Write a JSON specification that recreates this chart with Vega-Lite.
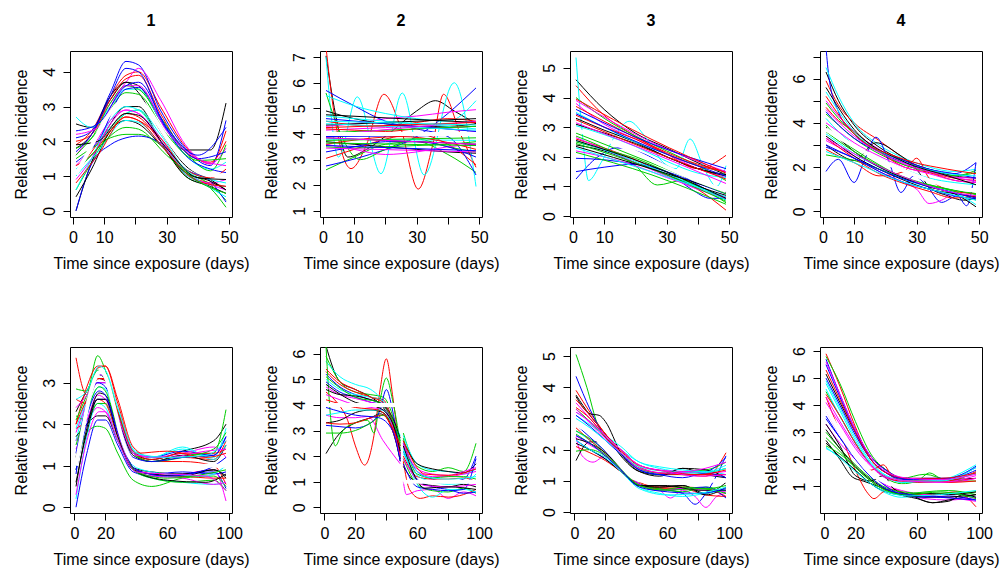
{
"$schema":"https://vega.github.io/schema/vega-lite/v6.json",
"background":"white",
"padding":{"left":12,"top":12,"right":5,"bottom":5},
"config":{
 "view":{"stroke":"black","strokeWidth":1},
 "font":"Liberation Sans",
 "axis":{"domain":false,"grid":false,"ticks":true,"tickSize":7,"tickColor":"black","tickWidth":1,"labelFont":"Liberation Sans","labelFontSize":16,"labelColor":"black","titleFont":"Liberation Sans","titleFontSize":16,"titleFontWeight":"normal","titleColor":"black","labelOverlap":false,"labelFlush":false},
 "axisX":{"labelPadding":5,"titlePadding":10},
 "axisY":{"labelAngle":-90,"labelAlign":"center","labelBaseline":"bottom","labelPadding":6,"titlePadding":12},
 "title":{"font":"Liberation Sans","fontSize":16,"fontWeight":"bold","color":"black","offset":22,"baseline":"alphabetic"}
},
"datasets":{
"p1":[
{"s":1,"x":1,"y":2.5},{"s":1,"x":6,"y":2.4},{"s":1,"x":12,"y":3.2},{"s":1,"x":17,"y":3.7},{"s":1,"x":21,"y":3.6},{"s":1,"x":28,"y":2.6},{"s":1,"x":36,"y":1.75},{"s":1,"x":44,"y":1.75},{"s":1,"x":49,"y":3.1},
{"s":2,"x":1,"y":1.9},{"s":2,"x":6,"y":2.3},{"s":2,"x":12,"y":3.3},{"s":2,"x":17,"y":3.9},{"s":2,"x":21,"y":4.0},{"s":2,"x":28,"y":3.0},{"s":2,"x":36,"y":1.85},{"s":2,"x":44,"y":1.35},{"s":2,"x":49,"y":2.3},
{"s":3,"x":1,"y":0.6},{"s":3,"x":6,"y":1.4},{"s":3,"x":12,"y":2.3},{"s":3,"x":17,"y":2.8},{"s":3,"x":21,"y":2.9},{"s":3,"x":28,"y":2.0},{"s":3,"x":36,"y":1.0},{"s":3,"x":44,"y":0.65},{"s":3,"x":49,"y":0.1},
{"s":4,"x":1,"y":2.1},{"s":4,"x":6,"y":2.3},{"s":4,"x":12,"y":3.4},{"s":4,"x":17,"y":4.3},{"s":4,"x":21,"y":4.2},{"s":4,"x":28,"y":2.9},{"s":4,"x":36,"y":1.8},{"s":4,"x":44,"y":1.3},{"s":4,"x":49,"y":2.6},
{"s":5,"x":1,"y":2.7},{"s":5,"x":6,"y":2.4},{"s":5,"x":12,"y":3.0},{"s":5,"x":17,"y":3.5},{"s":5,"x":21,"y":3.5},{"s":5,"x":28,"y":2.6},{"s":5,"x":36,"y":1.6},{"s":5,"x":44,"y":1.2},{"s":5,"x":49,"y":1.4},
{"s":6,"x":1,"y":1.6},{"s":6,"x":6,"y":2.2},{"s":6,"x":12,"y":3.1},{"s":6,"x":17,"y":3.7},{"s":6,"x":21,"y":4.1},{"s":6,"x":28,"y":3.2},{"s":6,"x":36,"y":1.9},{"s":6,"x":44,"y":1.35},{"s":6,"x":49,"y":1.8},
{"s":7,"x":1,"y":0},{"s":7,"x":6,"y":1.4},{"s":7,"x":12,"y":2.5},{"s":7,"x":17,"y":3.0},{"s":7,"x":21,"y":3.0},{"s":7,"x":28,"y":2.0},{"s":7,"x":36,"y":1.0},{"s":7,"x":44,"y":0.7},{"s":7,"x":49,"y":0.5},
{"s":8,"x":1,"y":1.1},{"s":8,"x":6,"y":1.7},{"s":8,"x":12,"y":2.4},{"s":8,"x":17,"y":2.8},{"s":8,"x":21,"y":2.7},{"s":8,"x":28,"y":2.0},{"s":8,"x":36,"y":1.05},{"s":8,"x":44,"y":0.8},{"s":8,"x":49,"y":0.7},
{"s":9,"x":1,"y":1.5},{"s":9,"x":6,"y":1.8},{"s":9,"x":12,"y":2.1},{"s":9,"x":17,"y":2.2},{"s":9,"x":21,"y":2.2},{"s":9,"x":28,"y":1.9},{"s":9,"x":36,"y":1.15},{"s":9,"x":44,"y":0.75},{"s":9,"x":49,"y":0.3},
{"s":10,"x":1,"y":0},{"s":10,"x":6,"y":1.35},{"s":10,"x":12,"y":1.9},{"s":10,"x":17,"y":2.1},{"s":10,"x":21,"y":2.15},{"s":10,"x":28,"y":1.95},{"s":10,"x":36,"y":1.2},{"s":10,"x":44,"y":0.85},{"s":10,"x":49,"y":0.25},
{"s":11,"x":1,"y":0.6},{"s":11,"x":6,"y":1.5},{"s":11,"x":12,"y":2.6},{"s":11,"x":17,"y":3.0},{"s":11,"x":21,"y":2.9},{"s":11,"x":28,"y":2.1},{"s":11,"x":36,"y":1.05},{"s":11,"x":44,"y":0.75},{"s":11,"x":49,"y":0.7},
{"s":12,"x":1,"y":1.3},{"s":12,"x":6,"y":1.8},{"s":12,"x":12,"y":2.6},{"s":12,"x":17,"y":2.9},{"s":12,"x":21,"y":2.8},{"s":12,"x":28,"y":2.1},{"s":12,"x":36,"y":1.1},{"s":12,"x":44,"y":0.8},{"s":12,"x":49,"y":0.9},
{"s":13,"x":1,"y":1.8},{"s":13,"x":6,"y":2.2},{"s":13,"x":12,"y":3.3},{"s":13,"x":17,"y":3.7},{"s":13,"x":21,"y":3.4},{"s":13,"x":28,"y":2.3},{"s":13,"x":36,"y":1.3},{"s":13,"x":44,"y":0.9},{"s":13,"x":49,"y":0.6},
{"s":14,"x":1,"y":2.0},{"s":14,"x":6,"y":2.2},{"s":14,"x":12,"y":3.2},{"s":14,"x":17,"y":3.8},{"s":14,"x":21,"y":3.9},{"s":14,"x":28,"y":2.8},{"s":14,"x":36,"y":1.7},{"s":14,"x":44,"y":1.4},{"s":14,"x":49,"y":2.0},
{"s":15,"x":1,"y":1.8},{"s":15,"x":6,"y":2.1},{"s":15,"x":12,"y":3.1},{"s":15,"x":17,"y":3.6},{"s":15,"x":21,"y":3.5},{"s":15,"x":28,"y":2.7},{"s":15,"x":36,"y":1.7},{"s":15,"x":44,"y":1.15},{"s":15,"x":49,"y":1.9},
{"s":16,"x":1,"y":1.7},{"s":16,"x":6,"y":2.2},{"s":16,"x":12,"y":3.3},{"s":16,"x":17,"y":4.1},{"s":16,"x":21,"y":4.0},{"s":16,"x":28,"y":2.7},{"s":16,"x":36,"y":1.6},{"s":16,"x":44,"y":1.2},{"s":16,"x":49,"y":1.1},
{"s":17,"x":1,"y":1.2},{"s":17,"x":6,"y":1.6},{"s":17,"x":12,"y":2.4},{"s":17,"x":17,"y":2.8},{"s":17,"x":21,"y":2.9},{"s":17,"x":28,"y":2.2},{"s":17,"x":36,"y":1.2},{"s":17,"x":44,"y":0.9},{"s":17,"x":49,"y":0.8},
{"s":18,"x":1,"y":0.9},{"s":18,"x":6,"y":1.5},{"s":18,"x":12,"y":2.5},{"s":18,"x":17,"y":2.9},{"s":18,"x":21,"y":2.8},{"s":18,"x":28,"y":2.0},{"s":18,"x":36,"y":1.1},{"s":18,"x":44,"y":0.75},{"s":18,"x":49,"y":0.6},
{"s":19,"x":1,"y":0.4},{"s":19,"x":6,"y":1.2},{"s":19,"x":12,"y":2.3},{"s":19,"x":17,"y":2.6},{"s":19,"x":21,"y":2.5},{"s":19,"x":28,"y":1.9},{"s":19,"x":36,"y":1.1},{"s":19,"x":44,"y":0.85},{"s":19,"x":49,"y":0.6},
{"s":20,"x":1,"y":1.3},{"s":20,"x":6,"y":1.6},{"s":20,"x":12,"y":2.3},{"s":20,"x":17,"y":2.7},{"s":20,"x":21,"y":2.6},{"s":20,"x":28,"y":2.1},{"s":20,"x":36,"y":1.2},{"s":20,"x":44,"y":0.95},{"s":20,"x":49,"y":1.2},
{"s":21,"x":1,"y":1.6},{"s":21,"x":8,"y":2.3},{"s":21,"x":17,"y":3.4},{"s":21,"x":21,"y":3.35},{"s":21,"x":30,"y":2.2},{"s":21,"x":40,"y":1.45},{"s":21,"x":49,"y":1.5},
{"s":22,"x":1,"y":1.4},{"s":22,"x":8,"y":2.0},{"s":22,"x":17,"y":3.5},{"s":22,"x":21,"y":3.55},{"s":22,"x":30,"y":2.35},{"s":22,"x":40,"y":1.5},{"s":22,"x":49,"y":1.7},
{"s":23,"x":1,"y":1.0},{"s":23,"x":8,"y":1.7},{"s":23,"x":17,"y":2.6},{"s":23,"x":21,"y":2.55},{"s":23,"x":30,"y":1.7},{"s":23,"x":40,"y":0.9},{"s":23,"x":49,"y":0.4},
{"s":24,"x":1,"y":2.2},{"s":24,"x":8,"y":2.4},{"s":24,"x":17,"y":3.6},{"s":24,"x":21,"y":3.6},{"s":24,"x":30,"y":2.3},{"s":24,"x":40,"y":1.5},{"s":24,"x":49,"y":1.3},
{"s":25,"x":1,"y":1.9},{"s":25,"x":8,"y":2.0},{"s":25,"x":17,"y":2.8},{"s":25,"x":21,"y":2.75},{"s":25,"x":30,"y":1.8},{"s":25,"x":40,"y":0.95},{"s":25,"x":49,"y":0.9},
{"s":26,"x":1,"y":0.8},{"s":26,"x":8,"y":1.6},{"s":26,"x":17,"y":2.7},{"s":26,"x":21,"y":2.6},{"s":26,"x":30,"y":1.7},{"s":26,"x":40,"y":0.85},{"s":26,"x":49,"y":0.7},
{"s":27,"x":1,"y":1.1},{"s":27,"x":8,"y":1.8},{"s":27,"x":17,"y":2.4},{"s":27,"x":21,"y":2.35},{"s":27,"x":30,"y":1.6},{"s":27,"x":40,"y":0.85},{"s":27,"x":49,"y":0.5},
{"s":28,"x":1,"y":2.3},{"s":28,"x":8,"y":2.5},{"s":28,"x":17,"y":3.6},{"s":28,"x":21,"y":3.7},{"s":28,"x":30,"y":2.4},{"s":28,"x":40,"y":1.6},{"s":28,"x":49,"y":2.4}
],
"t1":[
{"s":1,"x":1,"y":1.05},{"s":1,"x":5,"y":1.7},{"s":1,"x":10,"y":2.55},{"s":1,"x":14,"y":3.05},{"s":1,"x":18,"y":3.3},{"s":1,"x":21,"y":3.22},{"s":1,"x":25,"y":2.8},{"s":1,"x":30,"y":2.1},{"s":1,"x":35,"y":1.5},{"s":1,"x":40,"y":1.12},{"s":1,"x":44,"y":1.02},{"s":1,"x":49,"y":1.02}
],
"p2":[
{"s":1,"x":1,"y":7.05},{"s":1,"x":4,"y":4.8},{"s":1,"x":8,"y":3.1},{"s":1,"x":14,"y":3.4},{"s":1,"x":22,"y":4.1},{"s":1,"x":30,"y":4.9},{"s":1,"x":36,"y":5.3},{"s":1,"x":42,"y":4.9},{"s":1,"x":49,"y":4.4},
{"s":2,"x":1,"y":7.4},{"s":2,"x":3,"y":5.3},{"s":2,"x":9,"y":2.65},{"s":2,"x":14,"y":3.6},{"s":2,"x":19.5,"y":5.55},{"s":2,"x":25,"y":4.2},{"s":2,"x":30.5,"y":1.85},{"s":2,"x":35,"y":3.5},{"s":2,"x":38.6,"y":5.55},{"s":2,"x":44,"y":4.0},{"s":2,"x":49,"y":2.7},
{"s":3,"x":1,"y":2.6},{"s":3,"x":10,"y":3.1},{"s":3,"x":20,"y":3.6},{"s":3,"x":30,"y":3.7},{"s":3,"x":40,"y":3.2},{"s":3,"x":49,"y":2.5},
{"s":4,"x":1,"y":2.75},{"s":4,"x":15,"y":3.2},{"s":4,"x":30,"y":3.9},{"s":4,"x":40,"y":4.8},{"s":4,"x":49,"y":5.8},
{"s":5,"x":1,"y":7.0},{"s":5,"x":5,"y":3.1},{"s":5,"x":11,"y":5.45},{"s":5,"x":18.6,"y":2.45},{"s":5,"x":25.4,"y":5.6},{"s":5,"x":32.4,"y":2.4},{"s":5,"x":42,"y":6.0},{"s":5,"x":49,"y":1.95},
{"s":6,"x":1,"y":4.3},{"s":6,"x":10,"y":4.4},{"s":6,"x":20,"y":4.6},{"s":6,"x":30,"y":4.7},{"s":6,"x":40,"y":4.85},{"s":6,"x":49,"y":4.95},
{"s":7,"x":1,"y":3.7},{"s":7,"x":10,"y":3.6},{"s":7,"x":20,"y":3.5},{"s":7,"x":30,"y":3.4},{"s":7,"x":40,"y":3.3},{"s":7,"x":49,"y":3.25},
{"s":8,"x":1,"y":3.05},{"s":8,"x":10,"y":3.4},{"s":8,"x":20,"y":3.8},{"s":8,"x":30,"y":4.0},{"s":8,"x":40,"y":3.6},{"s":8,"x":49,"y":2.8},
{"s":9,"x":1,"y":5.6},{"s":9,"x":5,"y":4.2},{"s":9,"x":12,"y":3.0},{"s":9,"x":20,"y":3.4},{"s":9,"x":30,"y":3.8},{"s":9,"x":40,"y":3.5},{"s":9,"x":49,"y":3.3},
{"s":10,"x":1,"y":5.7},{"s":10,"x":10,"y":5.1},{"s":10,"x":20,"y":4.5},{"s":10,"x":30,"y":4.2},{"s":10,"x":40,"y":3.9},{"s":10,"x":49,"y":2.4},
{"s":11,"x":1,"y":5.5},{"s":11,"x":10,"y":5.1},{"s":11,"x":20,"y":4.8},{"s":11,"x":30,"y":4.6},{"s":11,"x":40,"y":4.5},{"s":11,"x":49,"y":5.3},
{"s":12,"x":1,"y":3.6},{"s":12,"x":10,"y":3.4},{"s":12,"x":20,"y":3.2},{"s":12,"x":30,"y":3.3},{"s":12,"x":40,"y":3.5},{"s":12,"x":49,"y":3.6},
{"s":13,"x":1,"y":4.9},{"s":13,"x":10,"y":4.6},{"s":13,"x":20,"y":4.4},{"s":13,"x":30,"y":4.3},{"s":13,"x":40,"y":4.3},{"s":13,"x":49,"y":4.4},
{"s":14,"x":1,"y":4.5},{"s":14,"x":10,"y":4.35},{"s":14,"x":20,"y":4.3},{"s":14,"x":30,"y":4.45},{"s":14,"x":40,"y":4.6},{"s":14,"x":49,"y":4.5},
{"s":15,"x":1,"y":3.5},{"s":15,"x":10,"y":3.45},{"s":15,"x":20,"y":3.5},{"s":15,"x":30,"y":3.55},{"s":15,"x":40,"y":3.6},{"s":15,"x":49,"y":3.7},
{"s":16,"x":1,"y":3.3},{"s":16,"x":10,"y":3.5},{"s":16,"x":20,"y":3.7},{"s":16,"x":30,"y":3.7},{"s":16,"x":40,"y":3.5},{"s":16,"x":49,"y":3.1},
{"s":17,"x":1,"y":4.7},{"s":17,"x":10,"y":4.6},{"s":17,"x":20,"y":4.5},{"s":17,"x":30,"y":4.4},{"s":17,"x":40,"y":4.3},{"s":17,"x":49,"y":4.2},
{"s":18,"x":1,"y":4.15},{"s":18,"x":10,"y":4.2},{"s":18,"x":20,"y":4.25},{"s":18,"x":30,"y":4.3},{"s":18,"x":40,"y":4.2},{"s":18,"x":49,"y":4.1},
{"s":19,"x":1,"y":3.85},{"s":19,"x":10,"y":3.8},{"s":19,"x":20,"y":3.75},{"s":19,"x":30,"y":3.7},{"s":19,"x":40,"y":3.65},{"s":19,"x":49,"y":3.6},
{"s":20,"x":1,"y":4.2},{"s":20,"x":10,"y":4.15},{"s":20,"x":20,"y":4.1},{"s":20,"x":30,"y":4.2},{"s":20,"x":40,"y":4.25},{"s":20,"x":49,"y":4.3},
{"s":21,"x":1,"y":4.05},{"s":21,"x":49,"y":4.3},
{"s":22,"x":1,"y":3.9},{"s":22,"x":49,"y":3.95},
{"s":23,"x":1,"y":3.8},{"s":23,"x":49,"y":3.75},
{"s":24,"x":1,"y":3.45},{"s":24,"x":49,"y":3.3},
{"s":25,"x":1,"y":4.35},{"s":25,"x":49,"y":4.6},
{"s":26,"x":1,"y":3.6},{"s":26,"x":25,"y":3.9},{"s":26,"x":49,"y":3.4},
{"s":27,"x":1,"y":3.65},{"s":27,"x":49,"y":3.55},
{"s":28,"x":1,"y":4.6},{"s":28,"x":49,"y":4.1},
{"s":29,"x":1,"y":4.4},{"s":29,"x":49,"y":4.15},
{"s":30,"x":1,"y":3.95},{"s":30,"x":49,"y":4.5},
{"s":31,"x":1,"y":4.75},{"s":31,"x":49,"y":4.45},
{"s":32,"x":1,"y":4.25},{"s":32,"x":49,"y":4.45},
{"s":33,"x":1,"y":3.75},{"s":33,"x":49,"y":3.85},
{"s":34,"x":1,"y":3.55},{"s":34,"x":49,"y":3.35},
{"s":35,"x":1,"y":4.5},{"s":35,"x":49,"y":4.35},
{"s":36,"x":1,"y":3.85},{"s":36,"x":49,"y":3.6}
],
"t2":[{"s":1,"x":1,"y":4},{"s":1,"x":49,"y":4}],
"p3":[
{"s":1,"x":1,"y":4.6},{"s":1,"x":10,"y":3.6},{"s":1,"x":20,"y":2.8},{"s":1,"x":30,"y":2.3},{"s":1,"x":40,"y":1.8},{"s":1,"x":49,"y":1.4},
{"s":2,"x":1,"y":4.4},{"s":2,"x":10,"y":3.4},{"s":2,"x":20,"y":2.7},{"s":2,"x":30,"y":2.1},{"s":2,"x":40,"y":1.6},{"s":2,"x":49,"y":2.05},
{"s":3,"x":1,"y":4.0},{"s":3,"x":10,"y":3.3},{"s":3,"x":20,"y":2.7},{"s":3,"x":30,"y":2.2},{"s":3,"x":40,"y":1.7},{"s":3,"x":49,"y":1.2},
{"s":4,"x":1,"y":1.25},{"s":4,"x":8,"y":2.0},{"s":4,"x":14,"y":2.3},{"s":4,"x":20,"y":2.2},{"s":4,"x":30,"y":1.7},{"s":4,"x":40,"y":1.05},{"s":4,"x":49,"y":0.55},
{"s":5,"x":1,"y":5.35},{"s":5,"x":3,"y":2.8},{"s":5,"x":5,"y":1.2},{"s":5,"x":9,"y":1.8},{"s":5,"x":14,"y":2.8},{"s":5,"x":18,"y":3.2},{"s":5,"x":23,"y":2.7},{"s":5,"x":29,"y":1.8},{"s":5,"x":33,"y":1.6},{"s":5,"x":37.5,"y":2.6},{"s":5,"x":42,"y":1.6},{"s":5,"x":46,"y":1.0},{"s":5,"x":49,"y":1.7},
{"s":6,"x":1,"y":3.8},{"s":6,"x":10,"y":3.1},{"s":6,"x":20,"y":2.6},{"s":6,"x":30,"y":2.1},{"s":6,"x":40,"y":1.6},{"s":6,"x":49,"y":1.3},
{"s":7,"x":1,"y":3.3},{"s":7,"x":10,"y":2.9},{"s":7,"x":20,"y":2.5},{"s":7,"x":30,"y":2.0},{"s":7,"x":40,"y":1.6},{"s":7,"x":49,"y":1.35},
{"s":8,"x":1,"y":2.6},{"s":8,"x":10,"y":2.3},{"s":8,"x":20,"y":1.9},{"s":8,"x":30,"y":1.4},{"s":8,"x":40,"y":0.9},{"s":8,"x":49,"y":0.2},
{"s":9,"x":1,"y":2.7},{"s":9,"x":10,"y":2.3},{"s":9,"x":20,"y":1.7},{"s":9,"x":27,"y":1.05},{"s":9,"x":35,"y":1.2},{"s":9,"x":42,"y":0.9},{"s":9,"x":49,"y":0.45},
{"s":10,"x":1,"y":1.95},{"s":10,"x":10,"y":1.9},{"s":10,"x":20,"y":1.75},{"s":10,"x":30,"y":1.5},{"s":10,"x":38,"y":0.9},{"s":10,"x":44,"y":0.6},{"s":10,"x":49,"y":0.6},
{"s":11,"x":1,"y":3.5},{"s":11,"x":10,"y":3.0},{"s":11,"x":20,"y":2.5},{"s":11,"x":30,"y":2.1},{"s":11,"x":40,"y":1.7},{"s":11,"x":49,"y":1.5},
{"s":12,"x":1,"y":2.2},{"s":12,"x":10,"y":2.0},{"s":12,"x":20,"y":1.7},{"s":12,"x":30,"y":1.3},{"s":12,"x":40,"y":0.95},{"s":12,"x":49,"y":0.65},
{"s":13,"x":1,"y":2.4},{"s":13,"x":10,"y":2.2},{"s":13,"x":20,"y":1.8},{"s":13,"x":30,"y":1.4},{"s":13,"x":40,"y":1.0},{"s":13,"x":49,"y":0.7},
{"s":14,"x":1,"y":3.4},{"s":14,"x":10,"y":3.0},{"s":14,"x":20,"y":2.6},{"s":14,"x":30,"y":2.1},{"s":14,"x":40,"y":1.7},{"s":14,"x":49,"y":1.5},
{"s":15,"x":1,"y":2.5},{"s":15,"x":10,"y":2.25},{"s":15,"x":20,"y":1.95},{"s":15,"x":30,"y":1.5},{"s":15,"x":40,"y":1.0},{"s":15,"x":49,"y":0.55},
{"s":16,"x":1,"y":1.5},{"s":16,"x":10,"y":1.65},{"s":16,"x":20,"y":1.75},{"s":16,"x":30,"y":1.5},{"s":16,"x":40,"y":1.1},{"s":16,"x":49,"y":0.75},
{"s":17,"x":1,"y":3.05},{"s":17,"x":10,"y":2.75},{"s":17,"x":20,"y":2.35},{"s":17,"x":30,"y":1.85},{"s":17,"x":40,"y":1.45},{"s":17,"x":49,"y":1.3},
{"s":18,"x":1,"y":2.65},{"s":18,"x":10,"y":2.25},{"s":18,"x":20,"y":1.8},{"s":18,"x":30,"y":1.35},{"s":18,"x":40,"y":0.9},{"s":18,"x":49,"y":0.6},
{"s":19,"x":1,"y":3.1},{"s":19,"x":10,"y":2.8},{"s":19,"x":20,"y":2.45},{"s":19,"x":30,"y":2.0},{"s":19,"x":40,"y":1.6},{"s":19,"x":49,"y":1.4},
{"s":20,"x":1,"y":3.7},{"s":20,"x":10,"y":3.2},{"s":20,"x":20,"y":2.65},{"s":20,"x":30,"y":2.15},{"s":20,"x":40,"y":1.75},{"s":20,"x":49,"y":1.5},
{"s":21,"x":1,"y":2.45},{"s":21,"x":25,"y":1.6},{"s":21,"x":49,"y":0.5},
{"s":22,"x":1,"y":3.45},{"s":22,"x":25,"y":2.3},{"s":22,"x":49,"y":1.35},
{"s":23,"x":1,"y":2.55},{"s":23,"x":25,"y":1.65},{"s":23,"x":49,"y":0.55},
{"s":24,"x":1,"y":3.9},{"s":24,"x":25,"y":2.5},{"s":24,"x":49,"y":1.5},
{"s":25,"x":1,"y":2.35},{"s":25,"x":25,"y":1.6},{"s":25,"x":49,"y":0.8},
{"s":26,"x":1,"y":3.25},{"s":26,"x":25,"y":2.2},{"s":26,"x":49,"y":1.25},
{"s":27,"x":1,"y":2.8},{"s":27,"x":25,"y":1.8},{"s":27,"x":49,"y":0.75},
{"s":28,"x":1,"y":3.6},{"s":28,"x":25,"y":2.45},{"s":28,"x":49,"y":1.6},
{"s":29,"x":1,"y":2.3},{"s":29,"x":25,"y":1.5},{"s":29,"x":49,"y":0.65},
{"s":30,"x":1,"y":3.15},{"s":30,"x":25,"y":2.15},{"s":30,"x":49,"y":1.1},
{"s":31,"x":1,"y":2.55},{"s":31,"x":25,"y":1.7},{"s":31,"x":49,"y":0.6},
{"s":32,"x":1,"y":3.95},{"s":32,"x":25,"y":2.6},{"s":32,"x":49,"y":1.45},
{"s":33,"x":1,"y":2.15},{"s":33,"x":25,"y":1.4},{"s":33,"x":49,"y":0.4}
],
"t3":[{"s":1,"x":1,"y":2.9},{"s":1,"x":10,"y":2.6},{"s":1,"x":20,"y":2.15},{"s":1,"x":30,"y":1.65},{"s":1,"x":40,"y":1.2},{"s":1,"x":49,"y":0.85}],
"p4":[
{"s":1,"x":1,"y":6.3},{"s":1,"x":5,"y":5.0},{"s":1,"x":10,"y":3.9},{"s":1,"x":18,"y":2.9},{"s":1,"x":26,"y":2.3},{"s":1,"x":34,"y":1.9},{"s":1,"x":42,"y":1.6},{"s":1,"x":49,"y":1.5},
{"s":2,"x":1,"y":5.9},{"s":2,"x":5,"y":4.8},{"s":2,"x":10,"y":4.0},{"s":2,"x":18,"y":3.2},{"s":2,"x":26,"y":2.4},{"s":2,"x":34,"y":1.8},{"s":2,"x":42,"y":1.5},{"s":2,"x":49,"y":1.4},
{"s":3,"x":1,"y":4.4},{"s":3,"x":5,"y":3.9},{"s":3,"x":10,"y":3.3},{"s":3,"x":18,"y":2.6},{"s":3,"x":26,"y":2.1},{"s":3,"x":34,"y":1.8},{"s":3,"x":42,"y":1.6},{"s":3,"x":49,"y":1.85},
{"s":4,"x":1,"y":7.4},{"s":4,"x":2,"y":6.0},{"s":4,"x":5,"y":4.5},{"s":4,"x":10,"y":3.5},{"s":4,"x":18,"y":2.7},{"s":4,"x":26,"y":2.2},{"s":4,"x":34,"y":1.9},{"s":4,"x":42,"y":1.7},{"s":4,"x":49,"y":2.2},
{"s":5,"x":1,"y":6.5},{"s":5,"x":5,"y":5.2},{"s":5,"x":10,"y":4.0},{"s":5,"x":18,"y":3.0},{"s":5,"x":26,"y":2.4},{"s":5,"x":34,"y":2.0},{"s":5,"x":42,"y":1.8},{"s":5,"x":49,"y":1.9},
{"s":6,"x":1,"y":5.0},{"s":6,"x":5,"y":4.3},{"s":6,"x":10,"y":3.6},{"s":6,"x":18,"y":2.8},{"s":6,"x":26,"y":2.2},{"s":6,"x":34,"y":1.8},{"s":6,"x":42,"y":1.55},{"s":6,"x":49,"y":1.5},
{"s":7,"x":1,"y":3.0},{"s":7,"x":5,"y":2.6},{"s":7,"x":10,"y":2.3},{"s":7,"x":17,"y":3.1},{"s":7,"x":24,"y":2.6},{"s":7,"x":30,"y":1.9},{"s":7,"x":34,"y":1.1},{"s":7,"x":40,"y":0.7},{"s":7,"x":45,"y":0.5},{"s":7,"x":49,"y":0.6},
{"s":8,"x":1,"y":4.7},{"s":8,"x":5,"y":4.1},{"s":8,"x":10,"y":3.6},{"s":8,"x":18,"y":2.7},{"s":8,"x":26,"y":2.0},{"s":8,"x":34,"y":1.75},{"s":8,"x":42,"y":1.4},{"s":8,"x":49,"y":1.3},
{"s":9,"x":1,"y":3.9},{"s":9,"x":5,"y":3.3},{"s":9,"x":10,"y":2.8},{"s":9,"x":18,"y":2.1},{"s":9,"x":26,"y":1.5},{"s":9,"x":34,"y":1.2},{"s":9,"x":42,"y":0.95},{"s":9,"x":49,"y":0.75},
{"s":10,"x":1,"y":1.8},{"s":10,"x":5,"y":2.35},{"s":10,"x":10,"y":1.3},{"s":10,"x":13,"y":2.2},{"s":10,"x":17,"y":3.35},{"s":10,"x":21,"y":2.3},{"s":10,"x":25,"y":0.85},{"s":10,"x":29,"y":1.6},{"s":10,"x":33,"y":1.2},{"s":10,"x":38,"y":0.4},{"s":10,"x":43,"y":0.7},{"s":10,"x":46,"y":0.25},{"s":10,"x":49,"y":2.2},
{"s":11,"x":1,"y":4.2},{"s":11,"x":5,"y":3.6},{"s":11,"x":10,"y":3.0},{"s":11,"x":18,"y":2.4},{"s":11,"x":26,"y":1.9},{"s":11,"x":34,"y":1.5},{"s":11,"x":42,"y":1.3},{"s":11,"x":49,"y":1.2},
{"s":12,"x":1,"y":3.2},{"s":12,"x":5,"y":2.9},{"s":12,"x":10,"y":2.5},{"s":12,"x":18,"y":1.8},{"s":12,"x":26,"y":1.3},{"s":12,"x":30,"y":1.0},{"s":12,"x":34,"y":0.35},{"s":12,"x":38,"y":0.5},{"s":12,"x":42,"y":0.8},{"s":12,"x":49,"y":0.6},
{"s":13,"x":1,"y":3.4},{"s":13,"x":5,"y":3.0},{"s":13,"x":10,"y":2.5},{"s":13,"x":18,"y":1.9},{"s":13,"x":26,"y":1.4},{"s":13,"x":34,"y":1.0},{"s":13,"x":42,"y":0.8},{"s":13,"x":49,"y":0.65},
{"s":14,"x":1,"y":2.8},{"s":14,"x":5,"y":2.5},{"s":14,"x":10,"y":2.2},{"s":14,"x":18,"y":1.6},{"s":14,"x":26,"y":1.8},{"s":14,"x":30,"y":2.4},{"s":14,"x":34,"y":1.5},{"s":14,"x":42,"y":0.9},{"s":14,"x":49,"y":0.8},
{"s":15,"x":1,"y":2.55},{"s":15,"x":5,"y":2.45},{"s":15,"x":10,"y":2.3},{"s":15,"x":18,"y":1.9},{"s":15,"x":26,"y":1.5},{"s":15,"x":34,"y":1.15},{"s":15,"x":42,"y":0.9},{"s":15,"x":49,"y":0.5},
{"s":16,"x":1,"y":4.5},{"s":16,"x":5,"y":3.9},{"s":16,"x":10,"y":3.3},{"s":16,"x":18,"y":2.7},{"s":16,"x":26,"y":2.3},{"s":16,"x":34,"y":1.9},{"s":16,"x":42,"y":1.7},{"s":16,"x":49,"y":1.5},
{"s":17,"x":1,"y":3.5},{"s":17,"x":5,"y":3.1},{"s":17,"x":10,"y":2.6},{"s":17,"x":18,"y":2.0},{"s":17,"x":26,"y":1.45},{"s":17,"x":34,"y":1.1},{"s":17,"x":42,"y":0.85},{"s":17,"x":49,"y":0.3},
{"s":18,"x":1,"y":4.0},{"s":18,"x":5,"y":3.6},{"s":18,"x":10,"y":3.1},{"s":18,"x":18,"y":2.5},{"s":18,"x":26,"y":2.0},{"s":18,"x":34,"y":1.7},{"s":18,"x":42,"y":1.4},{"s":18,"x":49,"y":1.3},
{"s":19,"x":1,"y":3.8},{"s":19,"x":5,"y":3.3},{"s":19,"x":10,"y":2.7},{"s":19,"x":18,"y":2.0},{"s":19,"x":26,"y":1.5},{"s":19,"x":34,"y":1.1},{"s":19,"x":42,"y":0.8},{"s":19,"x":49,"y":0.2},
{"s":20,"x":1,"y":3.3},{"s":20,"x":5,"y":2.9},{"s":20,"x":10,"y":2.4},{"s":20,"x":18,"y":1.7},{"s":20,"x":26,"y":1.25},{"s":20,"x":34,"y":0.9},{"s":20,"x":42,"y":0.6},{"s":20,"x":49,"y":0.7},
{"s":21,"x":1,"y":4.9},{"s":21,"x":5,"y":4.2},{"s":21,"x":10,"y":3.5},{"s":21,"x":18,"y":2.7},{"s":21,"x":26,"y":2.1},{"s":21,"x":34,"y":1.8},{"s":21,"x":42,"y":1.6},{"s":21,"x":49,"y":1.75},
{"s":22,"x":1,"y":2.9},{"s":22,"x":5,"y":2.7},{"s":22,"x":10,"y":2.4},{"s":22,"x":18,"y":1.8},{"s":22,"x":26,"y":1.3},{"s":22,"x":34,"y":1.0},{"s":22,"x":42,"y":0.7},{"s":22,"x":49,"y":0.55},
{"s":23,"x":1,"y":5.4},{"s":23,"x":10,"y":3.6},{"s":23,"x":25,"y":2.3},{"s":23,"x":40,"y":1.7},{"s":23,"x":49,"y":1.6},
{"s":24,"x":1,"y":4.6},{"s":24,"x":10,"y":3.4},{"s":24,"x":25,"y":2.2},{"s":24,"x":40,"y":1.6},{"s":24,"x":49,"y":1.35},
{"s":25,"x":1,"y":5.6},{"s":25,"x":10,"y":3.7},{"s":25,"x":25,"y":2.3},{"s":25,"x":40,"y":1.6},{"s":25,"x":49,"y":1.2},
{"s":26,"x":1,"y":5.2},{"s":26,"x":10,"y":3.5},{"s":26,"x":25,"y":2.4},{"s":26,"x":40,"y":1.9},{"s":26,"x":49,"y":1.7},
{"s":27,"x":1,"y":3.6},{"s":27,"x":10,"y":2.7},{"s":27,"x":25,"y":1.6},{"s":27,"x":40,"y":1.0},{"s":27,"x":49,"y":0.8},
{"s":28,"x":1,"y":3.0},{"s":28,"x":10,"y":2.4},{"s":28,"x":25,"y":1.5},{"s":28,"x":40,"y":0.9},{"s":28,"x":49,"y":0.6},
{"s":29,"x":1,"y":2.7},{"s":29,"x":10,"y":2.2},{"s":29,"x":25,"y":1.35},{"s":29,"x":40,"y":0.8},{"s":29,"x":49,"y":0.5},
{"s":30,"x":1,"y":3.3},{"s":30,"x":10,"y":2.6},{"s":30,"x":25,"y":1.6},{"s":30,"x":40,"y":0.9},{"s":30,"x":49,"y":0.7}
],
"t4":[{"s":1,"x":1,"y":3.7},{"s":1,"x":5,"y":3.35},{"s":1,"x":10,"y":2.95},{"s":1,"x":15,"y":2.55},{"s":1,"x":20,"y":2.2},{"s":1,"x":25,"y":1.9},{"s":1,"x":30,"y":1.6},{"s":1,"x":35,"y":1.35},{"s":1,"x":40,"y":1.15},{"s":1,"x":45,"y":1.0},{"s":1,"x":49,"y":0.95}],
"p5":[
{"s":1,"x":1,"y":2.3},{"s":1,"x":8,"y":2.8},{"s":1,"x":15,"y":3.2},{"s":1,"x":20,"y":3.1},{"s":1,"x":28,"y":2.2},{"s":1,"x":38,"y":1.3},{"s":1,"x":50,"y":1.15},{"s":1,"x":70,"y":1.35},{"s":1,"x":90,"y":1.6},{"s":1,"x":98,"y":2.0},
{"s":2,"x":1,"y":3.6},{"s":2,"x":8,"y":2.7},{"s":2,"x":15,"y":3.35},{"s":2,"x":20,"y":3.4},{"s":2,"x":28,"y":2.6},{"s":2,"x":38,"y":1.45},{"s":2,"x":50,"y":1.2},{"s":2,"x":70,"y":1.2},{"s":2,"x":90,"y":1.15},{"s":2,"x":98,"y":1.6},
{"s":3,"x":1,"y":2.85},{"s":3,"x":8,"y":2.8},{"s":3,"x":15,"y":3.65},{"s":3,"x":20,"y":3.3},{"s":3,"x":28,"y":2.25},{"s":3,"x":38,"y":1.3},{"s":3,"x":50,"y":1.1},{"s":3,"x":70,"y":1.25},{"s":3,"x":90,"y":1.3},{"s":3,"x":98,"y":2.35},
{"s":4,"x":1,"y":0},{"s":4,"x":8,"y":1.3},{"s":4,"x":15,"y":2.1},{"s":4,"x":20,"y":2.1},{"s":4,"x":28,"y":1.5},{"s":4,"x":38,"y":0.85},{"s":4,"x":50,"y":0.75},{"s":4,"x":70,"y":0.8},{"s":4,"x":90,"y":0.85},{"s":4,"x":98,"y":0.45},
{"s":5,"x":1,"y":1.6},{"s":5,"x":8,"y":2.6},{"s":5,"x":15,"y":3.3},{"s":5,"x":20,"y":3.2},{"s":5,"x":28,"y":2.3},{"s":5,"x":38,"y":1.35},{"s":5,"x":50,"y":1.2},{"s":5,"x":70,"y":1.4},{"s":5,"x":90,"y":1.2},{"s":5,"x":98,"y":1.9},
{"s":6,"x":1,"y":1.4},{"s":6,"x":8,"y":2.0},{"s":6,"x":15,"y":2.4},{"s":6,"x":20,"y":2.3},{"s":6,"x":28,"y":1.6},{"s":6,"x":38,"y":0.9},{"s":6,"x":50,"y":0.75},{"s":6,"x":70,"y":0.8},{"s":6,"x":90,"y":0.9},{"s":6,"x":98,"y":0.15},
{"s":7,"x":1,"y":1.7},{"s":7,"x":8,"y":2.0},{"s":7,"x":15,"y":2.2},{"s":7,"x":20,"y":2.2},{"s":7,"x":28,"y":1.6},{"s":7,"x":38,"y":0.95},{"s":7,"x":50,"y":0.85},{"s":7,"x":70,"y":0.8},{"s":7,"x":90,"y":0.9},{"s":7,"x":98,"y":0.7},
{"s":8,"x":1,"y":2.0},{"s":8,"x":8,"y":2.9},{"s":8,"x":15,"y":3.4},{"s":8,"x":20,"y":3.4},{"s":8,"x":28,"y":2.5},{"s":8,"x":38,"y":1.35},{"s":8,"x":50,"y":1.1},{"s":8,"x":70,"y":1.1},{"s":8,"x":90,"y":1.0},{"s":8,"x":98,"y":0.55},
{"s":9,"x":1,"y":0.9},{"s":9,"x":8,"y":1.8},{"s":9,"x":15,"y":1.95},{"s":9,"x":20,"y":1.9},{"s":9,"x":28,"y":1.3},{"s":9,"x":38,"y":0.65},{"s":9,"x":50,"y":0.5},{"s":9,"x":70,"y":0.7},{"s":9,"x":90,"y":0.75},{"s":9,"x":98,"y":0.5},
{"s":10,"x":1,"y":0.8},{"s":10,"x":8,"y":2.3},{"s":10,"x":15,"y":3.0},{"s":10,"x":20,"y":3.0},{"s":10,"x":28,"y":2.3},{"s":10,"x":38,"y":1.3},{"s":10,"x":50,"y":1.2},{"s":10,"x":70,"y":1.35},{"s":10,"x":90,"y":1.25},{"s":10,"x":98,"y":1.7},
{"s":11,"x":1,"y":0.2},{"s":11,"x":8,"y":1.7},{"s":11,"x":15,"y":2.5},{"s":11,"x":20,"y":2.4},{"s":11,"x":28,"y":1.6},{"s":11,"x":38,"y":0.9},{"s":11,"x":50,"y":0.7},{"s":11,"x":70,"y":0.6},{"s":11,"x":90,"y":0.55},{"s":11,"x":98,"y":0.6},
{"s":12,"x":1,"y":1.8},{"s":12,"x":8,"y":2.5},{"s":12,"x":15,"y":3.0},{"s":12,"x":20,"y":3.0},{"s":12,"x":28,"y":2.2},{"s":12,"x":38,"y":1.3},{"s":12,"x":50,"y":1.2},{"s":12,"x":70,"y":1.3},{"s":12,"x":90,"y":1.45},{"s":12,"x":98,"y":1.2},
{"s":13,"x":1,"y":1.2},{"s":13,"x":8,"y":2.4},{"s":13,"x":15,"y":3.1},{"s":13,"x":20,"y":3.05},{"s":13,"x":28,"y":2.2},{"s":13,"x":38,"y":1.25},{"s":13,"x":50,"y":1.1},{"s":13,"x":70,"y":1.25},{"s":13,"x":90,"y":1.1},{"s":13,"x":98,"y":1.5},
{"s":14,"x":1,"y":1.9},{"s":14,"x":8,"y":2.1},{"s":14,"x":15,"y":2.6},{"s":14,"x":20,"y":2.5},{"s":14,"x":28,"y":1.7},{"s":14,"x":38,"y":0.95},{"s":14,"x":50,"y":0.8},{"s":14,"x":70,"y":0.75},{"s":14,"x":90,"y":0.7},{"s":14,"x":98,"y":0.7},
{"s":15,"x":1,"y":2.2},{"s":15,"x":8,"y":2.1},{"s":15,"x":15,"y":2.5},{"s":15,"x":20,"y":2.5},{"s":15,"x":28,"y":1.75},{"s":15,"x":38,"y":0.9},{"s":15,"x":50,"y":0.7},{"s":15,"x":70,"y":0.6},{"s":15,"x":90,"y":0.65},{"s":15,"x":98,"y":0.4},
{"s":16,"x":1,"y":0.9},{"s":16,"x":8,"y":2.0},{"s":16,"x":15,"y":2.6},{"s":16,"x":20,"y":2.6},{"s":16,"x":28,"y":1.8},{"s":16,"x":38,"y":0.95},{"s":16,"x":50,"y":0.8},{"s":16,"x":70,"y":0.85},{"s":16,"x":90,"y":0.8},{"s":16,"x":98,"y":0.85},
{"s":17,"x":1,"y":1.9},{"s":17,"x":8,"y":2.6},{"s":17,"x":15,"y":3.2},{"s":17,"x":20,"y":3.15},{"s":17,"x":28,"y":2.35},{"s":17,"x":38,"y":1.4},{"s":17,"x":50,"y":1.2},{"s":17,"x":70,"y":1.45},{"s":17,"x":90,"y":1.15},{"s":17,"x":98,"y":1.5},
{"s":18,"x":1,"y":1.6},{"s":18,"x":8,"y":2.1},{"s":18,"x":15,"y":2.7},{"s":18,"x":20,"y":2.6},{"s":18,"x":28,"y":1.75},{"s":18,"x":38,"y":0.95},{"s":18,"x":50,"y":0.75},{"s":18,"x":70,"y":0.7},{"s":18,"x":90,"y":0.55},{"s":18,"x":98,"y":0.6},
{"s":19,"x":1,"y":0.6},{"s":19,"x":8,"y":1.8},{"s":19,"x":15,"y":2.6},{"s":19,"x":20,"y":2.6},{"s":19,"x":28,"y":1.7},{"s":19,"x":38,"y":0.9},{"s":19,"x":50,"y":0.8},{"s":19,"x":70,"y":0.75},{"s":19,"x":90,"y":0.9},{"s":19,"x":98,"y":0.75},
{"s":20,"x":1,"y":2.6},{"s":20,"x":8,"y":2.5},{"s":20,"x":15,"y":3.1},{"s":20,"x":20,"y":3.1},{"s":20,"x":28,"y":2.3},{"s":20,"x":38,"y":1.35},{"s":20,"x":50,"y":1.15},{"s":20,"x":70,"y":1.3},{"s":20,"x":90,"y":1.3},{"s":20,"x":98,"y":1.4},
{"s":21,"x":1,"y":2.1},{"s":21,"x":8,"y":2.7},{"s":21,"x":15,"y":3.3},{"s":21,"x":20,"y":3.2},{"s":21,"x":28,"y":2.3},{"s":21,"x":38,"y":1.3},{"s":21,"x":50,"y":1.1},{"s":21,"x":70,"y":1.2},{"s":21,"x":90,"y":1.4},{"s":21,"x":98,"y":1.8},
{"s":22,"x":1,"y":1.3},{"s":22,"x":8,"y":2.5},{"s":22,"x":15,"y":3.0},{"s":22,"x":20,"y":2.9},{"s":22,"x":28,"y":2.1},{"s":22,"x":38,"y":1.2},{"s":22,"x":50,"y":1.1},{"s":22,"x":70,"y":1.2},{"s":22,"x":90,"y":1.25},{"s":22,"x":98,"y":1.7},
{"s":23,"x":1,"y":1.0},{"s":23,"x":8,"y":2.2},{"s":23,"x":16,"y":2.9},{"s":23,"x":20,"y":2.85},{"s":23,"x":28,"y":1.95},{"s":23,"x":40,"y":0.95},{"s":23,"x":60,"y":0.8},{"s":23,"x":85,"y":0.75},{"s":23,"x":98,"y":1.0},
{"s":24,"x":1,"y":2.4},{"s":24,"x":8,"y":2.7},{"s":24,"x":16,"y":3.2},{"s":24,"x":20,"y":3.1},{"s":24,"x":28,"y":2.2},{"s":24,"x":40,"y":1.25},{"s":24,"x":60,"y":1.2},{"s":24,"x":85,"y":1.35},{"s":24,"x":98,"y":1.4},
{"s":25,"x":1,"y":0.5},{"s":25,"x":8,"y":1.9},{"s":25,"x":16,"y":2.75},{"s":25,"x":20,"y":2.7},{"s":25,"x":28,"y":1.9},{"s":25,"x":40,"y":0.85},{"s":25,"x":60,"y":0.65},{"s":25,"x":85,"y":0.6},{"s":25,"x":98,"y":0.8},
{"s":26,"x":1,"y":2.0},{"s":26,"x":8,"y":2.6},{"s":26,"x":16,"y":3.1},{"s":26,"x":20,"y":3.05},{"s":26,"x":28,"y":2.3},{"s":26,"x":40,"y":1.3},{"s":26,"x":60,"y":1.35},{"s":26,"x":85,"y":1.2},{"s":26,"x":98,"y":1.3},
{"s":27,"x":1,"y":1.5},{"s":27,"x":8,"y":2.3},{"s":27,"x":16,"y":2.9},{"s":27,"x":20,"y":2.8},{"s":27,"x":28,"y":1.9},{"s":27,"x":40,"y":0.85},{"s":27,"x":60,"y":0.7},{"s":27,"x":85,"y":0.8},{"s":27,"x":98,"y":0.9},
{"s":28,"x":1,"y":1.1},{"s":28,"x":8,"y":2.2},{"s":28,"x":16,"y":2.8},{"s":28,"x":20,"y":2.7},{"s":28,"x":28,"y":1.8},{"s":28,"x":40,"y":0.9},{"s":28,"x":60,"y":0.75},{"s":28,"x":85,"y":0.9},{"s":28,"x":98,"y":1.2},
{"s":29,"x":1,"y":2.6},{"s":29,"x":8,"y":2.8},{"s":29,"x":16,"y":3.4},{"s":29,"x":20,"y":3.3},{"s":29,"x":28,"y":2.4},{"s":29,"x":40,"y":1.3},{"s":29,"x":60,"y":1.2},{"s":29,"x":85,"y":1.25},{"s":29,"x":98,"y":1.6},
{"s":30,"x":1,"y":0.3},{"s":30,"x":8,"y":1.6},{"s":30,"x":16,"y":2.3},{"s":30,"x":20,"y":2.3},{"s":30,"x":28,"y":1.6},{"s":30,"x":40,"y":0.85},{"s":30,"x":60,"y":0.8},{"s":30,"x":85,"y":0.75},{"s":30,"x":98,"y":0.4}
],
"t5":[{"s":1,"x":1,"y":1.0},{"s":1,"x":5,"y":1.8},{"s":1,"x":10,"y":2.7},{"s":1,"x":14,"y":3.15},{"s":1,"x":17,"y":3.27},{"s":1,"x":20,"y":3.15},{"s":1,"x":25,"y":2.5},{"s":1,"x":30,"y":1.75},{"s":1,"x":35,"y":1.25},{"s":1,"x":40,"y":1.03},{"s":1,"x":45,"y":1.0},{"s":1,"x":98,"y":1.0}],
"p6":[
{"s":1,"x":1,"y":6.3},{"s":1,"x":10,"y":4.9},{"s":1,"x":20,"y":4.6},{"s":1,"x":30,"y":4.3},{"s":1,"x":38,"y":3.9},{"s":1,"x":44,"y":3.2},{"s":1,"x":49,"y":2.0},
{"s":2,"x":1,"y":4.5},{"s":2,"x":8,"y":4.1},{"s":2,"x":15,"y":3.4},{"s":2,"x":20,"y":2.4},{"s":2,"x":26,"y":1.65},{"s":2,"x":32,"y":2.8},{"s":2,"x":36,"y":4.6},{"s":2,"x":40,"y":5.8},{"s":2,"x":44,"y":4.4},{"s":2,"x":48.5,"y":2.2},
{"s":3,"x":1,"y":5.9},{"s":3,"x":10,"y":4.9},{"s":3,"x":20,"y":4.5},{"s":3,"x":30,"y":4.4},{"s":3,"x":38,"y":4.3},{"s":3,"x":44,"y":3.6},{"s":3,"x":49,"y":2.4},
{"s":4,"x":1,"y":5.2},{"s":4,"x":10,"y":4.7},{"s":4,"x":20,"y":4.4},{"s":4,"x":30,"y":4.2},{"s":4,"x":38,"y":4.0},{"s":4,"x":44,"y":3.2},{"s":4,"x":49,"y":1.9},
{"s":5,"x":1,"y":5.7},{"s":5,"x":10,"y":5.1},{"s":5,"x":20,"y":4.8},{"s":5,"x":30,"y":4.6},{"s":5,"x":38,"y":4.1},{"s":5,"x":44,"y":3.3},{"s":5,"x":49,"y":2.6},
{"s":6,"x":1,"y":3.6},{"s":6,"x":10,"y":3.5},{"s":6,"x":20,"y":3.5},{"s":6,"x":28,"y":3.55},{"s":6,"x":38,"y":2.6},{"s":6,"x":49,"y":1.7},
{"s":7,"x":1,"y":2.1},{"s":7,"x":10,"y":2.9},{"s":7,"x":20,"y":3.3},{"s":7,"x":30,"y":3.5},{"s":7,"x":36,"y":3.65},{"s":7,"x":44,"y":3.1},{"s":7,"x":49,"y":1.8},
{"s":8,"x":1,"y":5.3},{"s":8,"x":10,"y":4.8},{"s":8,"x":20,"y":4.5},{"s":8,"x":30,"y":4.3},{"s":8,"x":38,"y":4.2},{"s":8,"x":44,"y":3.4},{"s":8,"x":49,"y":2.3},
{"s":9,"x":1,"y":6.3},{"s":9,"x":4,"y":3.5},{"s":9,"x":7,"y":2.4},{"s":9,"x":12,"y":3.0},{"s":9,"x":20,"y":3.3},{"s":9,"x":28,"y":3.4},{"s":9,"x":32,"y":2.9},{"s":9,"x":36,"y":4.2},{"s":9,"x":40,"y":5.05},{"s":9,"x":44,"y":4.2},{"s":9,"x":49,"y":2.5},
{"s":10,"x":1,"y":3.2},{"s":10,"x":10,"y":3.15},{"s":10,"x":20,"y":3.1},{"s":10,"x":30,"y":3.3},{"s":10,"x":36,"y":3.8},{"s":10,"x":40,"y":4.6},{"s":10,"x":44,"y":3.8},{"s":10,"x":49,"y":2.0},
{"s":11,"x":1,"y":5.0},{"s":11,"x":10,"y":4.6},{"s":11,"x":20,"y":4.4},{"s":11,"x":30,"y":4.3},{"s":11,"x":38,"y":4.15},{"s":11,"x":44,"y":3.4},{"s":11,"x":49,"y":2.8},
{"s":12,"x":1,"y":4.4},{"s":12,"x":10,"y":4.2},{"s":12,"x":20,"y":4.0},{"s":12,"x":30,"y":3.9},{"s":12,"x":38,"y":3.8},{"s":12,"x":44,"y":3.1},{"s":12,"x":49,"y":2.0},
{"s":13,"x":1,"y":3.3},{"s":13,"x":10,"y":3.4},{"s":13,"x":20,"y":3.7},{"s":13,"x":30,"y":3.8},{"s":13,"x":38,"y":3.7},{"s":13,"x":44,"y":3.0},{"s":13,"x":49,"y":1.9},
{"s":14,"x":1,"y":3.3},{"s":14,"x":10,"y":3.25},{"s":14,"x":20,"y":3.3},{"s":14,"x":30,"y":3.5},{"s":14,"x":38,"y":3.6},{"s":14,"x":44,"y":3.0},{"s":14,"x":49,"y":2.0},
{"s":15,"x":1,"y":2.9},{"s":15,"x":10,"y":2.9},{"s":15,"x":20,"y":3.0},{"s":15,"x":30,"y":3.3},{"s":15,"x":38,"y":3.6},{"s":15,"x":44,"y":3.2},{"s":15,"x":49,"y":2.2},
{"s":16,"x":1,"y":4.9},{"s":16,"x":10,"y":4.5},{"s":16,"x":20,"y":4.3},{"s":16,"x":30,"y":4.1},{"s":16,"x":38,"y":4.0},{"s":16,"x":44,"y":3.3},{"s":16,"x":49,"y":2.1},
{"s":17,"x":1,"y":3.6},{"s":17,"x":10,"y":3.7},{"s":17,"x":20,"y":3.8},{"s":17,"x":30,"y":3.8},{"s":17,"x":38,"y":3.8},{"s":17,"x":44,"y":3.2},{"s":17,"x":49,"y":2.3},
{"s":18,"x":1,"y":4.7},{"s":18,"x":10,"y":4.4},{"s":18,"x":20,"y":4.25},{"s":18,"x":30,"y":4.1},{"s":18,"x":38,"y":3.95},{"s":18,"x":44,"y":3.2},{"s":18,"x":49,"y":2.0},
{"s":19,"x":1,"y":4.6},{"s":19,"x":10,"y":4.4},{"s":19,"x":20,"y":4.35},{"s":19,"x":30,"y":4.2},{"s":19,"x":38,"y":4.0},{"s":19,"x":44,"y":3.5},{"s":19,"x":49,"y":2.7},
{"s":20,"x":1,"y":5.4},{"s":20,"x":10,"y":4.9},{"s":20,"x":20,"y":4.6},{"s":20,"x":30,"y":4.3},{"s":20,"x":38,"y":4.1},{"s":20,"x":44,"y":3.3},{"s":20,"x":49,"y":2.1},
{"s":21,"x":51,"y":2.9},{"s":21,"x":60,"y":1.6},{"s":21,"x":70,"y":1.4},{"s":21,"x":80,"y":1.55},{"s":21,"x":90,"y":1.4},{"s":21,"x":98,"y":2.5},
{"s":22,"x":51,"y":2.5},{"s":22,"x":60,"y":1.4},{"s":22,"x":70,"y":1.1},{"s":22,"x":80,"y":1.0},{"s":22,"x":90,"y":1.1},{"s":22,"x":98,"y":2.0},
{"s":23,"x":51,"y":2.8},{"s":23,"x":60,"y":1.7},{"s":23,"x":70,"y":1.45},{"s":23,"x":80,"y":1.4},{"s":23,"x":90,"y":1.3},{"s":23,"x":98,"y":1.5},
{"s":24,"x":51,"y":1.0},{"s":24,"x":53,"y":0.5},{"s":24,"x":60,"y":0.65},{"s":24,"x":70,"y":0.7},{"s":24,"x":80,"y":0.35},{"s":24,"x":90,"y":0.6},{"s":24,"x":98,"y":0.45},
{"s":25,"x":51,"y":2.6},{"s":25,"x":60,"y":1.7},{"s":25,"x":70,"y":1.5},{"s":25,"x":80,"y":1.4},{"s":25,"x":90,"y":1.35},{"s":25,"x":98,"y":1.7},
{"s":26,"x":51,"y":1.8},{"s":26,"x":55,"y":0.7},{"s":26,"x":62,"y":0.35},{"s":26,"x":70,"y":0.45},{"s":26,"x":80,"y":0.4},{"s":26,"x":90,"y":0.5},{"s":26,"x":98,"y":0.7},
{"s":27,"x":51,"y":1.9},{"s":27,"x":60,"y":0.9},{"s":27,"x":70,"y":0.65},{"s":27,"x":80,"y":0.6},{"s":27,"x":90,"y":0.75},{"s":27,"x":98,"y":0.55},
{"s":28,"x":51,"y":2.2},{"s":28,"x":60,"y":1.1},{"s":28,"x":70,"y":0.8},{"s":28,"x":80,"y":0.7},{"s":28,"x":90,"y":0.55},{"s":28,"x":98,"y":0.6},
{"s":29,"x":51,"y":2.3},{"s":29,"x":60,"y":0.9},{"s":29,"x":70,"y":0.4},{"s":29,"x":80,"y":0.7},{"s":29,"x":90,"y":0.7},{"s":29,"x":98,"y":0.6},
{"s":30,"x":51,"y":2.4},{"s":30,"x":60,"y":1.4},{"s":30,"x":70,"y":1.2},{"s":30,"x":80,"y":1.2},{"s":30,"x":90,"y":1.3},{"s":30,"x":98,"y":1.4},
{"s":31,"x":51,"y":1.6},{"s":31,"x":60,"y":0.95},{"s":31,"x":70,"y":0.85},{"s":31,"x":80,"y":0.8},{"s":31,"x":90,"y":0.9},{"s":31,"x":98,"y":0.8},
{"s":32,"x":51,"y":2.0},{"s":32,"x":60,"y":1.2},{"s":32,"x":70,"y":1.1},{"s":32,"x":80,"y":1.1},{"s":32,"x":90,"y":1.15},{"s":32,"x":98,"y":1.0},
{"s":33,"x":51,"y":2.7},{"s":33,"x":60,"y":1.3},{"s":33,"x":70,"y":1.15},{"s":33,"x":80,"y":1.2},{"s":33,"x":90,"y":1.2},{"s":33,"x":98,"y":1.1},
{"s":34,"x":51,"y":1.7},{"s":34,"x":60,"y":0.8},{"s":34,"x":70,"y":0.7},{"s":34,"x":80,"y":0.65},{"s":34,"x":90,"y":0.7},{"s":34,"x":98,"y":1.9},
{"s":35,"x":51,"y":2.1},{"s":35,"x":60,"y":1.25},{"s":35,"x":70,"y":1.0},{"s":35,"x":80,"y":0.9},{"s":35,"x":90,"y":0.95},{"s":35,"x":98,"y":1.3},
{"s":36,"x":51,"y":2.5},{"s":36,"x":60,"y":1.5},{"s":36,"x":70,"y":1.3},{"s":36,"x":80,"y":1.25},{"s":36,"x":90,"y":1.4},{"s":36,"x":98,"y":1.55},
{"s":37,"x":1,"y":4.8},{"s":37,"x":20,"y":4.1},{"s":37,"x":35,"y":3.9},{"s":37,"x":44,"y":3.3},{"s":37,"x":49,"y":2.2},
{"s":38,"x":1,"y":4.2},{"s":38,"x":20,"y":3.9},{"s":38,"x":35,"y":3.8},{"s":38,"x":44,"y":3.1},{"s":38,"x":49,"y":2.4},
{"s":39,"x":1,"y":5.1},{"s":39,"x":20,"y":4.3},{"s":39,"x":35,"y":4.1},{"s":39,"x":44,"y":3.4},{"s":39,"x":49,"y":2.6},
{"s":40,"x":1,"y":3.9},{"s":40,"x":20,"y":3.6},{"s":40,"x":35,"y":3.5},{"s":40,"x":44,"y":3.0},{"s":40,"x":49,"y":1.8},
{"s":41,"x":51,"y":2.2},{"s":41,"x":65,"y":1.2},{"s":41,"x":80,"y":1.1},{"s":41,"x":98,"y":1.2},
{"s":42,"x":51,"y":1.9},{"s":42,"x":65,"y":0.85},{"s":42,"x":80,"y":0.8},{"s":42,"x":98,"y":0.9},
{"s":43,"x":51,"y":2.4},{"s":43,"x":65,"y":0.75},{"s":43,"x":80,"y":0.8},{"s":43,"x":98,"y":0.7},
{"s":44,"x":51,"y":2.6},{"s":44,"x":65,"y":1.3},{"s":44,"x":80,"y":1.25},{"s":44,"x":98,"y":1.5}
],
"t6":[{"s":1,"x":1,"y":4},{"s":1,"x":46,"y":4},{"s":2,"x":51,"y":1},{"s":2,"x":98,"y":1}],
"p7":[
{"s":1,"x":1,"y":3.75},{"s":1,"x":10,"y":3.1},{"s":1,"x":20,"y":2.5},{"s":1,"x":30,"y":1.8},{"s":1,"x":42,"y":1.3},{"s":1,"x":55,"y":1.2},{"s":1,"x":70,"y":1.4},{"s":1,"x":85,"y":1.2},{"s":1,"x":98,"y":1.1},
{"s":2,"x":1,"y":3.9},{"s":2,"x":10,"y":3.2},{"s":2,"x":20,"y":2.5},{"s":2,"x":30,"y":1.9},{"s":2,"x":42,"y":1.4},{"s":2,"x":55,"y":1.25},{"s":2,"x":70,"y":1.2},{"s":2,"x":85,"y":1.15},{"s":2,"x":98,"y":1.9},
{"s":3,"x":1,"y":5.05},{"s":3,"x":8,"y":4.0},{"s":3,"x":15,"y":2.8},{"s":3,"x":20,"y":2.4},{"s":3,"x":30,"y":1.85},{"s":3,"x":42,"y":1.35},{"s":3,"x":55,"y":1.2},{"s":3,"x":70,"y":1.2},{"s":3,"x":85,"y":1.25},{"s":3,"x":98,"y":1.4},
{"s":4,"x":1,"y":2.3},{"s":4,"x":10,"y":2.0},{"s":4,"x":20,"y":1.7},{"s":4,"x":30,"y":1.3},{"s":4,"x":42,"y":0.9},{"s":4,"x":55,"y":0.75},{"s":4,"x":70,"y":0.6},{"s":4,"x":78,"y":0.25},{"s":4,"x":85,"y":0.6},{"s":4,"x":98,"y":1.8},
{"s":5,"x":1,"y":3.2},{"s":5,"x":10,"y":2.9},{"s":5,"x":20,"y":2.4},{"s":5,"x":30,"y":2.0},{"s":5,"x":42,"y":1.6},{"s":5,"x":55,"y":1.4},{"s":5,"x":70,"y":1.3},{"s":5,"x":85,"y":1.3},{"s":5,"x":98,"y":1.2},
{"s":6,"x":1,"y":2.4},{"s":6,"x":5,"y":1.8},{"s":6,"x":12,"y":1.6},{"s":6,"x":20,"y":1.8},{"s":6,"x":30,"y":1.3},{"s":6,"x":42,"y":0.85},{"s":6,"x":55,"y":0.7},{"s":6,"x":62,"y":0.45},{"s":6,"x":70,"y":0.7},{"s":6,"x":78,"y":0.5},{"s":6,"x":85,"y":0.15},{"s":6,"x":92,"y":0.5},{"s":6,"x":98,"y":0.6},
{"s":7,"x":1,"y":1.65},{"s":7,"x":10,"y":2.25},{"s":7,"x":15,"y":2.25},{"s":7,"x":20,"y":2.0},{"s":7,"x":30,"y":1.5},{"s":7,"x":42,"y":0.85},{"s":7,"x":55,"y":0.8},{"s":7,"x":70,"y":0.85},{"s":7,"x":85,"y":0.6},{"s":7,"x":98,"y":0.95},
{"s":8,"x":1,"y":2.1},{"s":8,"x":10,"y":1.9},{"s":8,"x":20,"y":1.65},{"s":8,"x":30,"y":1.3},{"s":8,"x":42,"y":0.9},{"s":8,"x":55,"y":0.75},{"s":8,"x":70,"y":0.75},{"s":8,"x":85,"y":0.55},{"s":8,"x":98,"y":0.5},
{"s":9,"x":1,"y":3.3},{"s":9,"x":10,"y":2.9},{"s":9,"x":20,"y":2.4},{"s":9,"x":30,"y":1.9},{"s":9,"x":42,"y":1.4},{"s":9,"x":55,"y":1.25},{"s":9,"x":70,"y":1.3},{"s":9,"x":85,"y":1.35},{"s":9,"x":98,"y":1.6},
{"s":10,"x":1,"y":4.35},{"s":10,"x":10,"y":3.3},{"s":10,"x":20,"y":2.4},{"s":10,"x":30,"y":1.9},{"s":10,"x":42,"y":1.35},{"s":10,"x":55,"y":1.2},{"s":10,"x":70,"y":1.25},{"s":10,"x":85,"y":1.3},{"s":10,"x":98,"y":1.75},
{"s":11,"x":1,"y":2.6},{"s":11,"x":10,"y":2.3},{"s":11,"x":20,"y":1.9},{"s":11,"x":30,"y":1.4},{"s":11,"x":42,"y":0.8},{"s":11,"x":55,"y":0.6},{"s":11,"x":70,"y":0.5},{"s":11,"x":85,"y":0.6},{"s":11,"x":98,"y":0.7},
{"s":12,"x":1,"y":3.5},{"s":12,"x":10,"y":3.0},{"s":12,"x":20,"y":2.45},{"s":12,"x":30,"y":2.0},{"s":12,"x":42,"y":1.5},{"s":12,"x":55,"y":1.35},{"s":12,"x":70,"y":1.3},{"s":12,"x":85,"y":1.25},{"s":12,"x":98,"y":1.3},
{"s":13,"x":1,"y":3.7},{"s":13,"x":10,"y":3.15},{"s":13,"x":16,"y":3.1},{"s":13,"x":20,"y":2.9},{"s":13,"x":30,"y":1.9},{"s":13,"x":42,"y":1.3},{"s":13,"x":55,"y":1.15},{"s":13,"x":70,"y":1.4},{"s":13,"x":85,"y":1.35},{"s":13,"x":98,"y":1.1},
{"s":14,"x":1,"y":2.7},{"s":14,"x":10,"y":2.3},{"s":14,"x":20,"y":1.9},{"s":14,"x":30,"y":1.45},{"s":14,"x":42,"y":0.95},{"s":14,"x":55,"y":0.8},{"s":14,"x":70,"y":0.8},{"s":14,"x":85,"y":0.75},{"s":14,"x":98,"y":0.5},
{"s":15,"x":1,"y":2.6},{"s":15,"x":10,"y":2.35},{"s":15,"x":20,"y":1.95},{"s":15,"x":30,"y":1.5},{"s":15,"x":42,"y":0.9},{"s":15,"x":55,"y":0.75},{"s":15,"x":70,"y":0.65},{"s":15,"x":85,"y":0.8},{"s":15,"x":98,"y":0.6},
{"s":16,"x":1,"y":2.8},{"s":16,"x":10,"y":2.4},{"s":16,"x":20,"y":1.95},{"s":16,"x":30,"y":1.45},{"s":16,"x":42,"y":0.9},{"s":16,"x":55,"y":0.7},{"s":16,"x":70,"y":0.75},{"s":16,"x":85,"y":0.8},{"s":16,"x":98,"y":0.45},
{"s":17,"x":1,"y":3.1},{"s":17,"x":10,"y":2.8},{"s":17,"x":20,"y":2.45},{"s":17,"x":30,"y":2.1},{"s":17,"x":42,"y":1.6},{"s":17,"x":55,"y":1.45},{"s":17,"x":70,"y":1.35},{"s":17,"x":85,"y":1.3},{"s":17,"x":98,"y":1.5},
{"s":18,"x":1,"y":2.45},{"s":18,"x":10,"y":2.15},{"s":18,"x":20,"y":1.85},{"s":18,"x":30,"y":1.4},{"s":18,"x":42,"y":0.9},{"s":18,"x":55,"y":0.7},{"s":18,"x":70,"y":0.75},{"s":18,"x":85,"y":0.7},{"s":18,"x":98,"y":0.65},
{"s":19,"x":1,"y":2.35},{"s":19,"x":10,"y":2.2},{"s":19,"x":20,"y":1.9},{"s":19,"x":30,"y":1.4},{"s":19,"x":42,"y":0.85},{"s":19,"x":55,"y":0.8},{"s":19,"x":70,"y":0.85},{"s":19,"x":85,"y":0.55},{"s":19,"x":98,"y":0.8},
{"s":20,"x":1,"y":3.35},{"s":20,"x":10,"y":3.0},{"s":20,"x":20,"y":2.4},{"s":20,"x":30,"y":1.95},{"s":20,"x":42,"y":1.45},{"s":20,"x":55,"y":1.25},{"s":20,"x":70,"y":1.2},{"s":20,"x":85,"y":1.2},{"s":20,"x":98,"y":1.2},
{"s":21,"x":1,"y":1.95},{"s":21,"x":10,"y":2.0},{"s":21,"x":20,"y":1.8},{"s":21,"x":30,"y":1.35},{"s":21,"x":42,"y":0.85},{"s":21,"x":55,"y":0.7},{"s":21,"x":70,"y":0.8},{"s":21,"x":85,"y":0.75},{"s":21,"x":98,"y":0.85},
{"s":22,"x":1,"y":3.1},{"s":22,"x":10,"y":2.75},{"s":22,"x":20,"y":2.3},{"s":22,"x":30,"y":1.85},{"s":22,"x":42,"y":1.35},{"s":22,"x":55,"y":1.2},{"s":22,"x":70,"y":1.1},{"s":22,"x":85,"y":1.25},{"s":22,"x":98,"y":1.1},
{"s":23,"x":1,"y":3.0},{"s":23,"x":10,"y":2.7},{"s":23,"x":20,"y":2.3},{"s":23,"x":30,"y":1.9},{"s":23,"x":42,"y":1.45},{"s":23,"x":60,"y":1.3},{"s":23,"x":80,"y":1.25},{"s":23,"x":98,"y":1.4},
{"s":24,"x":1,"y":3.3},{"s":24,"x":10,"y":2.85},{"s":24,"x":20,"y":2.35},{"s":24,"x":30,"y":1.9},{"s":24,"x":42,"y":1.4},{"s":24,"x":60,"y":1.25},{"s":24,"x":80,"y":1.35},{"s":24,"x":98,"y":1.6},
{"s":25,"x":1,"y":2.2},{"s":25,"x":10,"y":2.0},{"s":25,"x":20,"y":1.7},{"s":25,"x":30,"y":1.3},{"s":25,"x":42,"y":0.85},{"s":25,"x":60,"y":0.85},{"s":25,"x":80,"y":0.7},{"s":25,"x":98,"y":0.7},
{"s":26,"x":1,"y":3.6},{"s":26,"x":10,"y":3.1},{"s":26,"x":20,"y":2.5},{"s":26,"x":30,"y":2.0},{"s":26,"x":42,"y":1.5},{"s":26,"x":60,"y":1.3},{"s":26,"x":80,"y":1.2},{"s":26,"x":98,"y":1.35},
{"s":27,"x":1,"y":2.5},{"s":27,"x":10,"y":2.2},{"s":27,"x":20,"y":1.85},{"s":27,"x":30,"y":1.4},{"s":27,"x":42,"y":0.85},{"s":27,"x":60,"y":0.7},{"s":27,"x":80,"y":0.75},{"s":27,"x":98,"y":0.6},
{"s":28,"x":1,"y":2.45},{"s":28,"x":10,"y":2.2},{"s":28,"x":20,"y":1.8},{"s":28,"x":30,"y":1.35},{"s":28,"x":42,"y":0.8},{"s":28,"x":60,"y":0.65},{"s":28,"x":80,"y":0.6},{"s":28,"x":98,"y":0.75},
{"s":29,"x":1,"y":2.3},{"s":29,"x":10,"y":2.0},{"s":29,"x":20,"y":1.75},{"s":29,"x":30,"y":1.3},{"s":29,"x":42,"y":0.75},{"s":29,"x":60,"y":0.55},{"s":29,"x":80,"y":0.6},{"s":29,"x":98,"y":0.8},
{"s":30,"x":1,"y":3.2},{"s":30,"x":10,"y":2.9},{"s":30,"x":20,"y":2.45},{"s":30,"x":30,"y":2.0},{"s":30,"x":42,"y":1.5},{"s":30,"x":60,"y":1.3},{"s":30,"x":80,"y":1.15},{"s":30,"x":98,"y":1.2}
],
"t7":[{"s":1,"x":1,"y":2.8},{"s":1,"x":10,"y":2.55},{"s":1,"x":20,"y":2.05},{"s":1,"x":30,"y":1.5},{"s":1,"x":38,"y":1.1},{"s":1,"x":45,"y":1.0},{"s":1,"x":98,"y":1.0}],
"p8":[
{"s":1,"x":1,"y":5.15},{"s":1,"x":10,"y":4.1},{"s":1,"x":20,"y":3.0},{"s":1,"x":30,"y":2.1},{"s":1,"x":40,"y":1.6},{"s":1,"x":50,"y":1.3},{"s":1,"x":65,"y":1.2},{"s":1,"x":80,"y":1.25},{"s":1,"x":98,"y":1.3},
{"s":2,"x":1,"y":5.9},{"s":2,"x":10,"y":4.7},{"s":2,"x":20,"y":3.2},{"s":2,"x":30,"y":2.0},{"s":2,"x":40,"y":1.5},{"s":2,"x":50,"y":1.25},{"s":2,"x":65,"y":1.2},{"s":2,"x":80,"y":1.2},{"s":2,"x":98,"y":1.3},
{"s":3,"x":1,"y":5.8},{"s":3,"x":10,"y":4.8},{"s":3,"x":20,"y":3.4},{"s":3,"x":30,"y":2.2},{"s":3,"x":40,"y":1.6},{"s":3,"x":50,"y":1.3},{"s":3,"x":65,"y":1.45},{"s":3,"x":80,"y":1.25},{"s":3,"x":98,"y":1.5},
{"s":4,"x":1,"y":5.7},{"s":4,"x":10,"y":4.4},{"s":4,"x":20,"y":3.1},{"s":4,"x":30,"y":2.1},{"s":4,"x":40,"y":1.6},{"s":4,"x":50,"y":1.3},{"s":4,"x":65,"y":1.25},{"s":4,"x":80,"y":1.3},{"s":4,"x":98,"y":1.7},
{"s":5,"x":1,"y":2.4},{"s":5,"x":10,"y":2.1},{"s":5,"x":20,"y":1.6},{"s":5,"x":30,"y":1.1},{"s":5,"x":40,"y":0.75},{"s":5,"x":50,"y":0.6},{"s":5,"x":65,"y":0.7},{"s":5,"x":80,"y":0.75},{"s":5,"x":98,"y":0.6},
{"s":6,"x":1,"y":3.8},{"s":6,"x":10,"y":2.9},{"s":6,"x":20,"y":2.1},{"s":6,"x":30,"y":1.5},{"s":6,"x":40,"y":1.0},{"s":6,"x":50,"y":0.75},{"s":6,"x":65,"y":0.55},{"s":6,"x":80,"y":0.5},{"s":6,"x":98,"y":0.6},
{"s":7,"x":1,"y":2.7},{"s":7,"x":10,"y":2.0},{"s":7,"x":18,"y":1.35},{"s":7,"x":25,"y":1.2},{"s":7,"x":35,"y":1.0},{"s":7,"x":45,"y":0.75},{"s":7,"x":60,"y":0.55},{"s":7,"x":70,"y":0.4},{"s":7,"x":80,"y":0.5},{"s":7,"x":90,"y":0.6},{"s":7,"x":98,"y":0.7},
{"s":8,"x":1,"y":4.3},{"s":8,"x":10,"y":3.0},{"s":8,"x":20,"y":1.6},{"s":8,"x":28,"y":0.75},{"s":8,"x":32,"y":0.55},{"s":8,"x":38,"y":0.8},{"s":8,"x":45,"y":0.9},{"s":8,"x":55,"y":0.7},{"s":8,"x":70,"y":0.7},{"s":8,"x":85,"y":0.8},{"s":8,"x":98,"y":0.25},
{"s":9,"x":1,"y":4.5},{"s":9,"x":10,"y":3.6},{"s":9,"x":20,"y":2.6},{"s":9,"x":30,"y":1.8},{"s":9,"x":40,"y":1.3},{"s":9,"x":50,"y":1.1},{"s":9,"x":60,"y":1.2},{"s":9,"x":68,"y":1.5},{"s":9,"x":75,"y":1.3},{"s":9,"x":85,"y":1.2},{"s":9,"x":98,"y":1.2},
{"s":10,"x":1,"y":5.5},{"s":10,"x":10,"y":4.3},{"s":10,"x":20,"y":3.0},{"s":10,"x":30,"y":2.0},{"s":10,"x":40,"y":1.5},{"s":10,"x":50,"y":1.25},{"s":10,"x":65,"y":1.3},{"s":10,"x":80,"y":1.3},{"s":10,"x":98,"y":1.75},
{"s":11,"x":1,"y":4.9},{"s":11,"x":10,"y":3.9},{"s":11,"x":20,"y":2.8},{"s":11,"x":30,"y":1.9},{"s":11,"x":40,"y":1.4},{"s":11,"x":50,"y":1.15},{"s":11,"x":65,"y":1.15},{"s":11,"x":80,"y":1.3},{"s":11,"x":98,"y":1.8},
{"s":12,"x":1,"y":3.3},{"s":12,"x":10,"y":2.6},{"s":12,"x":20,"y":2.0},{"s":12,"x":30,"y":1.5},{"s":12,"x":40,"y":1.05},{"s":12,"x":50,"y":0.85},{"s":12,"x":65,"y":0.7},{"s":12,"x":80,"y":0.6},{"s":12,"x":98,"y":0.45},
{"s":13,"x":1,"y":3.3},{"s":13,"x":10,"y":2.5},{"s":13,"x":20,"y":1.4},{"s":13,"x":30,"y":1.2},{"s":13,"x":38,"y":1.4},{"s":13,"x":45,"y":0.9},{"s":13,"x":55,"y":0.7},{"s":13,"x":70,"y":0.4},{"s":13,"x":80,"y":0.45},{"s":13,"x":90,"y":0.7},{"s":13,"x":98,"y":0.6},
{"s":14,"x":1,"y":3.9},{"s":14,"x":10,"y":3.0},{"s":14,"x":20,"y":2.1},{"s":14,"x":30,"y":1.6},{"s":14,"x":38,"y":1.8},{"s":14,"x":45,"y":1.3},{"s":14,"x":60,"y":1.15},{"s":14,"x":80,"y":1.2},{"s":14,"x":98,"y":1.55},
{"s":15,"x":1,"y":3.0},{"s":15,"x":10,"y":2.4},{"s":15,"x":20,"y":1.8},{"s":15,"x":30,"y":1.3},{"s":15,"x":40,"y":0.95},{"s":15,"x":50,"y":0.8},{"s":15,"x":65,"y":0.75},{"s":15,"x":80,"y":0.75},{"s":15,"x":98,"y":0.8},
{"s":16,"x":1,"y":3.5},{"s":16,"x":10,"y":2.8},{"s":16,"x":20,"y":2.1},{"s":16,"x":30,"y":1.5},{"s":16,"x":40,"y":1.0},{"s":16,"x":50,"y":0.7},{"s":16,"x":65,"y":0.6},{"s":16,"x":80,"y":0.65},{"s":16,"x":98,"y":0.5},
{"s":17,"x":1,"y":4.6},{"s":17,"x":10,"y":3.6},{"s":17,"x":20,"y":2.6},{"s":17,"x":30,"y":1.8},{"s":17,"x":40,"y":1.35},{"s":17,"x":50,"y":1.15},{"s":17,"x":65,"y":1.2},{"s":17,"x":80,"y":1.25},{"s":17,"x":98,"y":1.5},
{"s":18,"x":1,"y":4.1},{"s":18,"x":10,"y":3.3},{"s":18,"x":20,"y":2.4},{"s":18,"x":30,"y":1.75},{"s":18,"x":40,"y":1.3},{"s":18,"x":50,"y":1.2},{"s":18,"x":65,"y":1.2},{"s":18,"x":80,"y":1.15},{"s":18,"x":98,"y":1.3},
{"s":19,"x":1,"y":2.6},{"s":19,"x":10,"y":2.1},{"s":19,"x":20,"y":1.6},{"s":19,"x":30,"y":1.1},{"s":19,"x":40,"y":0.8},{"s":19,"x":50,"y":0.7},{"s":19,"x":65,"y":0.75},{"s":19,"x":80,"y":0.7},{"s":19,"x":98,"y":0.8},
{"s":20,"x":1,"y":4.4},{"s":20,"x":10,"y":3.6},{"s":20,"x":20,"y":2.6},{"s":20,"x":30,"y":1.8},{"s":20,"x":40,"y":1.35},{"s":20,"x":50,"y":1.2},{"s":20,"x":65,"y":1.2},{"s":20,"x":80,"y":1.15},{"s":20,"x":98,"y":1.2},
{"s":21,"x":1,"y":2.5},{"s":21,"x":10,"y":2.2},{"s":21,"x":20,"y":1.7},{"s":21,"x":30,"y":1.2},{"s":21,"x":40,"y":0.85},{"s":21,"x":50,"y":0.7},{"s":21,"x":65,"y":0.8},{"s":21,"x":80,"y":0.85},{"s":21,"x":98,"y":0.7},
{"s":22,"x":1,"y":5.0},{"s":22,"x":10,"y":4.0},{"s":22,"x":20,"y":2.9},{"s":22,"x":30,"y":2.0},{"s":22,"x":40,"y":1.5},{"s":22,"x":50,"y":1.3},{"s":22,"x":65,"y":1.3},{"s":22,"x":80,"y":1.3},{"s":22,"x":98,"y":1.6},
{"s":23,"x":1,"y":4.8},{"s":23,"x":10,"y":3.8},{"s":23,"x":20,"y":2.7},{"s":23,"x":30,"y":1.85},{"s":23,"x":40,"y":1.4},{"s":23,"x":55,"y":1.2},{"s":23,"x":75,"y":1.2},{"s":23,"x":98,"y":1.7},
{"s":24,"x":1,"y":4.3},{"s":24,"x":10,"y":3.4},{"s":24,"x":20,"y":2.5},{"s":24,"x":30,"y":1.8},{"s":24,"x":40,"y":1.35},{"s":24,"x":55,"y":1.2},{"s":24,"x":75,"y":1.15},{"s":24,"x":98,"y":1.4},
{"s":25,"x":1,"y":3.1},{"s":25,"x":10,"y":2.4},{"s":25,"x":20,"y":1.75},{"s":25,"x":30,"y":1.25},{"s":25,"x":40,"y":0.9},{"s":25,"x":55,"y":0.65},{"s":25,"x":75,"y":0.6},{"s":25,"x":98,"y":0.7},
{"s":26,"x":1,"y":5.3},{"s":26,"x":10,"y":4.2},{"s":26,"x":20,"y":3.0},{"s":26,"x":30,"y":2.0},{"s":26,"x":40,"y":1.5},{"s":26,"x":55,"y":1.3},{"s":26,"x":75,"y":1.3},{"s":26,"x":98,"y":1.5},
{"s":27,"x":1,"y":2.8},{"s":27,"x":10,"y":2.3},{"s":27,"x":20,"y":1.7},{"s":27,"x":30,"y":1.2},{"s":27,"x":40,"y":0.85},{"s":27,"x":55,"y":0.7},{"s":27,"x":75,"y":0.8},{"s":27,"x":98,"y":0.55},
{"s":28,"x":1,"y":3.6},{"s":28,"x":10,"y":2.8},{"s":28,"x":20,"y":2.0},{"s":28,"x":30,"y":1.35},{"s":28,"x":40,"y":0.9},{"s":28,"x":55,"y":0.7},{"s":28,"x":75,"y":0.6},{"s":28,"x":98,"y":0.5},
{"s":29,"x":1,"y":2.45},{"s":29,"x":10,"y":2.05},{"s":29,"x":20,"y":1.55},{"s":29,"x":30,"y":1.1},{"s":29,"x":40,"y":0.8},{"s":29,"x":55,"y":0.65},{"s":29,"x":75,"y":0.7},{"s":29,"x":98,"y":0.85},
{"s":30,"x":1,"y":5.6},{"s":30,"x":10,"y":4.4},{"s":30,"x":20,"y":3.1},{"s":30,"x":30,"y":2.1},{"s":30,"x":40,"y":1.55},{"s":30,"x":55,"y":1.3},{"s":30,"x":75,"y":1.25},{"s":30,"x":98,"y":1.45}
],
"t8":[{"s":1,"x":1,"y":3.9},{"s":1,"x":8,"y":3.2},{"s":1,"x":15,"y":2.55},{"s":1,"x":22,"y":2.0},{"s":1,"x":30,"y":1.5},{"s":1,"x":38,"y":1.2},{"s":1,"x":45,"y":1.05},{"s":1,"x":52,"y":1.0},{"s":1,"x":98,"y":1.0}]
},
"spacing":296,
"bounds":"flush",
"vconcat":[
{"hconcat":[
{"width":162,"height":166,"title":"1",
 "encoding":{"x":{"field":"x","type":"quantitative","scale":{"domain":[-0.92,50.92],"nice":false,"zero":false},"axis":{"values":[0,10,20,30,40,50],"labelExpr":"datum.value==20||datum.value==40?'':datum.label","title":"Time since exposure (days)"}},
  "y":{"field":"y","type":"quantitative","scale":{"domain":[-0.18,4.6],"nice":false,"zero":false},"axis":{"values":[0,1,2,3,4],"title":"Relative incidence"}}},
 "layer":[
  {"data":{"name":"p1"},"mark":{"type":"line","clip":true,"strokeWidth":1,"interpolate":"monotone"},"encoding":{"color":{"field":"s","type":"nominal","scale":{"domain":[1,2,3,4,5,6,7,8,9,10,11,12,13,14,15,16,17,18,19,20,21,22,23,24,25,26,27,28,29,30,31,32,33,34,35,36,37,38,39,40,41,42,43,44],"range":["#000000","#FF0000","#00CD00","#0000FF","#00FFFF","#FF00FF"]},"legend":null}}},
  {"data":{"name":"t1"},"mark":{"type":"line","clip":true,"color":"white","strokeWidth":4,"interpolate":"monotone"},"encoding":{"detail":{"field":"s","type":"nominal"}}}
 ]},
{"width":162,"height":166,"title":"2",
 "encoding":{"x":{"field":"x","type":"quantitative","scale":{"domain":[-0.92,50.92],"nice":false,"zero":false},"axis":{"values":[0,10,20,30,40,50],"labelExpr":"datum.value==20||datum.value==40?'':datum.label","title":"Time since exposure (days)"}},
  "y":{"field":"y","type":"quantitative","scale":{"domain":[0.76,7.24],"nice":false,"zero":false},"axis":{"values":[1,2,3,4,5,6,7],"title":"Relative incidence"}}},
 "layer":[
  {"data":{"name":"p2"},"mark":{"type":"line","clip":true,"strokeWidth":1,"interpolate":"monotone"},"encoding":{"color":{"field":"s","type":"nominal","scale":{"domain":[1,2,3,4,5,6,7,8,9,10,11,12,13,14,15,16,17,18,19,20,21,22,23,24,25,26,27,28,29,30,31,32,33,34,35,36,37,38,39,40,41,42,43,44],"range":["#000000","#FF0000","#00CD00","#0000FF","#00FFFF","#FF00FF"]},"legend":null}}},
  {"data":{"name":"t2"},"mark":{"type":"line","clip":true,"color":"white","strokeWidth":4,"interpolate":"monotone"},"encoding":{"detail":{"field":"s","type":"nominal"}}}
 ]},
{"width":162,"height":166,"title":"3",
 "encoding":{"x":{"field":"x","type":"quantitative","scale":{"domain":[-0.92,50.92],"nice":false,"zero":false},"axis":{"values":[0,10,20,30,40,50],"labelExpr":"datum.value==20||datum.value==40?'':datum.label","title":"Time since exposure (days)"}},
  "y":{"field":"y","type":"quantitative","scale":{"domain":[-0.03,5.57],"nice":false,"zero":false},"axis":{"values":[0,1,2,3,4,5],"title":"Relative incidence"}}},
 "layer":[
  {"data":{"name":"p3"},"mark":{"type":"line","clip":true,"strokeWidth":1,"interpolate":"monotone"},"encoding":{"color":{"field":"s","type":"nominal","scale":{"domain":[1,2,3,4,5,6,7,8,9,10,11,12,13,14,15,16,17,18,19,20,21,22,23,24,25,26,27,28,29,30,31,32,33,34,35,36,37,38,39,40,41,42,43,44],"range":["#000000","#FF0000","#00CD00","#0000FF","#00FFFF","#FF00FF"]},"legend":null}}},
  {"data":{"name":"t3"},"mark":{"type":"line","clip":true,"color":"white","strokeWidth":4,"interpolate":"monotone"},"encoding":{"detail":{"field":"s","type":"nominal"}}}
 ]},
{"width":162,"height":166,"title":"4",
 "encoding":{"x":{"field":"x","type":"quantitative","scale":{"domain":[-0.92,50.92],"nice":false,"zero":false},"axis":{"values":[0,10,20,30,40,50],"labelExpr":"datum.value==20||datum.value==40?'':datum.label","title":"Time since exposure (days)"}},
  "y":{"field":"y","type":"quantitative","scale":{"domain":[-0.26,7.25],"nice":false,"zero":false},"axis":{"values":[0,1,2,3,4,5,6,7],"labelExpr":"datum.value%2==1?'':datum.label","title":"Relative incidence"}}},
 "layer":[
  {"data":{"name":"p4"},"mark":{"type":"line","clip":true,"strokeWidth":1,"interpolate":"monotone"},"encoding":{"color":{"field":"s","type":"nominal","scale":{"domain":[1,2,3,4,5,6,7,8,9,10,11,12,13,14,15,16,17,18,19,20,21,22,23,24,25,26,27,28,29,30,31,32,33,34,35,36,37,38,39,40,41,42,43,44],"range":["#000000","#FF0000","#00CD00","#0000FF","#00FFFF","#FF00FF"]},"legend":null}}},
  {"data":{"name":"t4"},"mark":{"type":"line","clip":true,"color":"white","strokeWidth":4,"interpolate":"monotone"},"encoding":{"detail":{"field":"s","type":"nominal"}}}
 ]}
],"spacing":88,"bounds":"flush"},
{"hconcat":[
{"width":162,"height":166,
 "encoding":{"x":{"field":"x","type":"quantitative","scale":{"domain":[-2.88,101.88],"nice":false,"zero":false},"axis":{"values":[0,20,40,60,80,100],"labelExpr":"datum.value==40||datum.value==80?'':datum.label","title":"Time since exposure (days)"}},
  "y":{"field":"y","type":"quantitative","scale":{"domain":[-0.14,3.86],"nice":false,"zero":false},"axis":{"values":[0,1,2,3],"title":"Relative incidence"}}},
 "layer":[
  {"data":{"name":"p5"},"mark":{"type":"line","clip":true,"strokeWidth":1,"interpolate":"monotone"},"encoding":{"color":{"field":"s","type":"nominal","scale":{"domain":[1,2,3,4,5,6,7,8,9,10,11,12,13,14,15,16,17,18,19,20,21,22,23,24,25,26,27,28,29,30,31,32,33,34,35,36,37,38,39,40,41,42,43,44],"range":["#000000","#FF0000","#00CD00","#0000FF","#00FFFF","#FF00FF"]},"legend":null}}},
  {"data":{"name":"t5"},"mark":{"type":"line","clip":true,"color":"white","strokeWidth":4,"interpolate":"monotone"},"encoding":{"detail":{"field":"s","type":"nominal"}}}
 ]},
{"width":162,"height":166,
 "encoding":{"x":{"field":"x","type":"quantitative","scale":{"domain":[-2.88,101.88],"nice":false,"zero":false},"axis":{"values":[0,20,40,60,80,100],"labelExpr":"datum.value==40||datum.value==80?'':datum.label","title":"Time since exposure (days)"}},
  "y":{"field":"y","type":"quantitative","scale":{"domain":[-0.22,6.26],"nice":false,"zero":false},"axis":{"values":[0,1,2,3,4,5,6],"title":"Relative incidence"}}},
 "layer":[
  {"data":{"name":"p6"},"mark":{"type":"line","clip":true,"strokeWidth":1,"interpolate":"monotone"},"encoding":{"color":{"field":"s","type":"nominal","scale":{"domain":[1,2,3,4,5,6,7,8,9,10,11,12,13,14,15,16,17,18,19,20,21,22,23,24,25,26,27,28,29,30,31,32,33,34,35,36,37,38,39,40,41,42,43,44],"range":["#000000","#FF0000","#00CD00","#0000FF","#00FFFF","#FF00FF"]},"legend":null}}},
  {"data":{"name":"t6"},"mark":{"type":"line","clip":true,"color":"white","strokeWidth":4},"encoding":{"detail":{"field":"s","type":"nominal"}}}
 ]},
{"width":162,"height":166,
 "encoding":{"x":{"field":"x","type":"quantitative","scale":{"domain":[-2.88,101.88],"nice":false,"zero":false},"axis":{"values":[0,20,40,60,80,100],"labelExpr":"datum.value==40||datum.value==80?'':datum.label","title":"Time since exposure (days)"}},
  "y":{"field":"y","type":"quantitative","scale":{"domain":[-0.03,5.29],"nice":false,"zero":false},"axis":{"values":[0,1,2,3,4,5],"title":"Relative incidence"}}},
 "layer":[
  {"data":{"name":"p7"},"mark":{"type":"line","clip":true,"strokeWidth":1,"interpolate":"monotone"},"encoding":{"color":{"field":"s","type":"nominal","scale":{"domain":[1,2,3,4,5,6,7,8,9,10,11,12,13,14,15,16,17,18,19,20,21,22,23,24,25,26,27,28,29,30,31,32,33,34,35,36,37,38,39,40,41,42,43,44],"range":["#000000","#FF0000","#00CD00","#0000FF","#00FFFF","#FF00FF"]},"legend":null}}},
  {"data":{"name":"t7"},"mark":{"type":"line","clip":true,"color":"white","strokeWidth":4,"interpolate":"monotone"},"encoding":{"detail":{"field":"s","type":"nominal"}}}
 ]},
{"width":162,"height":166,
 "encoding":{"x":{"field":"x","type":"quantitative","scale":{"domain":[-2.88,101.88],"nice":false,"zero":false},"axis":{"values":[0,20,40,60,80,100],"labelExpr":"datum.value==40||datum.value==80?'':datum.label","title":"Time since exposure (days)"}},
  "y":{"field":"y","type":"quantitative","scale":{"domain":[0.02,6.15],"nice":false,"zero":false},"axis":{"values":[1,2,3,4,5,6],"title":"Relative incidence"}}},
 "layer":[
  {"data":{"name":"p8"},"mark":{"type":"line","clip":true,"strokeWidth":1,"interpolate":"monotone"},"encoding":{"color":{"field":"s","type":"nominal","scale":{"domain":[1,2,3,4,5,6,7,8,9,10,11,12,13,14,15,16,17,18,19,20,21,22,23,24,25,26,27,28,29,30,31,32,33,34,35,36,37,38,39,40,41,42,43,44],"range":["#000000","#FF0000","#00CD00","#0000FF","#00FFFF","#FF00FF"]},"legend":null}}},
  {"data":{"name":"t8"},"mark":{"type":"line","clip":true,"color":"white","strokeWidth":4,"interpolate":"monotone"},"encoding":{"detail":{"field":"s","type":"nominal"}}}
 ]}
],"spacing":88,"bounds":"flush"}
],
"resolve":{"scale":{"color":"shared"}}
}
